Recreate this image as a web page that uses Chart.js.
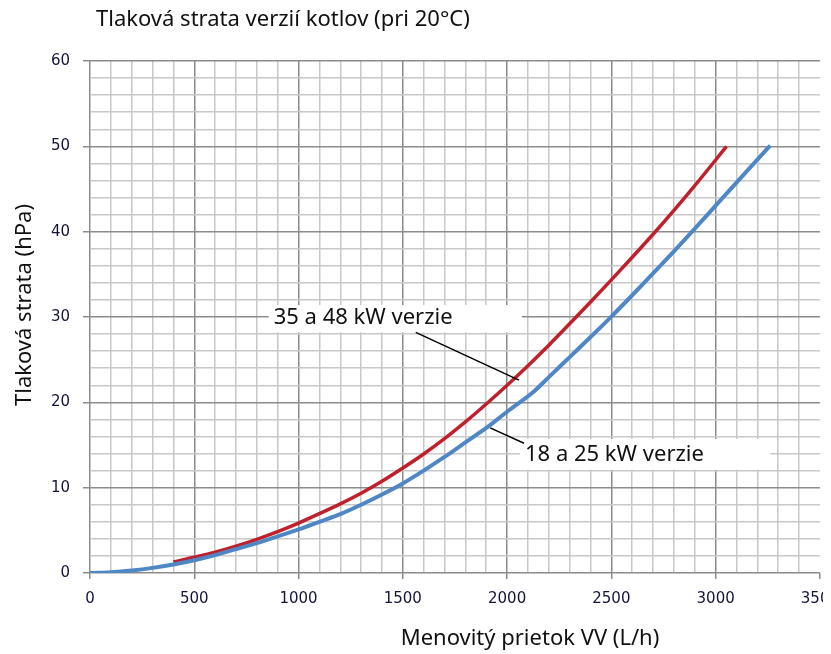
<!DOCTYPE html>
<html>
<head>
<meta charset="utf-8">
<script src="https://cdn.jsdelivr.net/npm/chart.js@4/dist/chart.umd.min.js"></script>
<style>
  html, body { margin: 0; padding: 0; background: #fff; overflow: hidden; }
  #wrap { width: 823px; height: 654px; overflow: hidden; position: relative; }
  canvas { display: block; }
</style>
</head>
<body>
<div id="wrap"><canvas id="chart" width="850" height="654"></canvas></div>
<script>
// data
const flowSmall = [0, 100, 200, 300, 400, 500, 600, 700, 800, 900, 1000, 1100, 1200, 1300, 1400, 1500, 1600, 1700, 1800, 1900, 2000, 2130, 2200, 2300, 2400, 2500, 2600, 2700, 2800, 2900, 3000, 3100, 3200, 3262];
const lossSmall = [0, 0.1, 0.3, 0.6, 1.0, 1.5, 2.1, 2.8, 3.5, 4.3, 5.1, 6.0, 6.9, 8.0, 9.2, 10.5, 12.0, 13.6, 15.3, 17.0, 18.9, 21.3, 22.95, 25.3, 27.65, 30.05, 32.55, 35.1, 37.7, 40.35, 43.05, 45.75, 48.45, 50.1];
const flowBig = [400, 500, 600, 700, 800, 900, 1000, 1100, 1200, 1300, 1400, 1500, 1600, 1700, 1800, 1900, 2000, 2100, 2200, 2300, 2400, 2500, 2600, 2700, 2800, 2900, 3000, 3052];
const lossBig = [1.3, 1.85, 2.45, 3.15, 3.95, 4.85, 5.85, 6.95, 8.1, 9.35, 10.75, 12.3, 13.95, 15.75, 17.7, 19.8, 22.0, 24.3, 26.7, 29.2, 31.75, 34.35, 37.0, 39.7, 42.5, 45.4, 48.4, 50.0];

const titleText = "Tlaková strata verzií kotlov (pri 20°C)";
const yTitle = "Tlaková strata (hPa)";
const xTitle = "Menovitý prietok VV (L/h)";

// callouts, in data units
const callouts = [
  { text: "35 a 48 kW verzie", box: [857, 2071, 31.4, 28.2], textX: 881, textY: 29.9, line: [1562, 28.2, 2057, 22.6] },
  { text: "18 a 25 kW verzie", box: [2062, 3262, 15.7, 12.1], textX: 2086, textY: 13.9, line: [1919, 17.0, 2081, 15.2] },
];

const textFont = '"Noto Sans", sans-serif';
const tickFont = { family: '"DejaVu Sans", sans-serif', size: 15 };
const tickColor = "#14143a";

const toPoints = (xs, ys) => xs.map((x, i) => ({ x: x, y: ys[i] }));

const gridX = ctx => {
  const v = ctx.tick ? ctx.tick.value : 0;
  if (v >= 3500) return "rgba(0,0,0,0)";
  return v % 500 === 0 ? "#8c8c8c" : "#c8c8c8";
};
const gridY = ctx => {
  const v = ctx.tick ? ctx.tick.value : 0;
  return v % 10 === 0 ? "#8c8c8c" : "#c8c8c8";
};

const textPlugin = {
  id: "texts",
  afterDatasetsDraw(chart) {
    const c = chart.ctx;
    const xs = chart.scales.x, ys = chart.scales.y;
    c.save();
    callouts.forEach(co => {
      const x1 = xs.getPixelForValue(co.box[0]), x2 = xs.getPixelForValue(co.box[1]);
      const y1 = ys.getPixelForValue(co.box[2]), y2 = ys.getPixelForValue(co.box[3]);
      c.fillStyle = "#fff";
      c.fillRect(x1, y1, x2 - x1, y2 - y1);
      c.strokeStyle = "#000";
      c.lineWidth = 1.5;
      c.beginPath();
      c.moveTo(xs.getPixelForValue(co.line[0]), ys.getPixelForValue(co.line[1]));
      c.lineTo(xs.getPixelForValue(co.line[2]), ys.getPixelForValue(co.line[3]));
      c.stroke();
      c.fillStyle = "#111";
      c.font = "22px " + textFont;
      c.textAlign = "left";
      c.textBaseline = "middle";
      c.fillText(co.text, xs.getPixelForValue(co.textX), ys.getPixelForValue(co.textY));
    });
    c.restore();
  },
  afterDraw(chart) {
    const c = chart.ctx;
    c.save();
    c.fillStyle = "#111";
    c.font = "22px " + textFont;
    c.textBaseline = "middle";
    c.textAlign = "left";
    c.fillText(titleText, 96, 20);
    c.textAlign = "center";
    c.fillText(xTitle, 530, 639);
    c.translate(25, 305);
    c.rotate(-Math.PI / 2);
    c.fillText(yTitle, 0, 0);
    c.restore();
  }
};

new Chart(document.getElementById("chart"), {
  type: "scatter",
  plugins: [textPlugin],
  data: {
    datasets: [
      {
        label: "18 a 25 kW verzie",
        data: toPoints(flowSmall, lossSmall),
        showLine: true,
        borderColor: "#4f87c6",
        borderWidth: 4,
        pointRadius: 0,
        cubicInterpolationMode: "monotone",
      },
      {
        label: "35 a 48 kW verzie",
        data: toPoints(flowBig, lossBig),
        showLine: true,
        borderColor: "#c0202b",
        borderWidth: 3.5,
        pointRadius: 0,
        cubicInterpolationMode: "monotone",
      },
    ],
  },
  options: {
    responsive: false,
    animation: false,
    layout: { padding: { top: 61, right: 25, left: 0, bottom: 0 } },
    plugins: { legend: { display: false }, tooltip: { enabled: false } },
    scales: {
      x: {
        type: "linear",
        min: 0,
        max: 3500,
        afterFit: s => { s.height = 81; },
        border: { display: false },
        grid: { color: gridX, tickColor: ctx => (ctx.tick && ctx.tick.value % 500 === 0 ? "#8c8c8c" : "rgba(0,0,0,0)"), lineWidth: 1.5, tickLength: 6 },
        ticks: {
          stepSize: 100,
          autoSkip: false,
          maxRotation: 0,
          padding: 11,
          color: tickColor,
          font: tickFont,
          callback: v => (v % 500 === 0 ? String(v) : ""),
        },
      },
      y: {
        min: 0,
        max: 60,
        afterFit: s => { s.width = 90; },
        border: { display: false },
        grid: { color: gridY, tickColor: ctx => (ctx.tick && ctx.tick.value % 10 === 0 ? "#8c8c8c" : "rgba(0,0,0,0)"), lineWidth: 1.5, tickLength: 7 },
        ticks: {
          stepSize: 2,
          autoSkip: false,
          padding: 13,
          color: tickColor,
          font: tickFont,
          callback: v => (v % 10 === 0 ? String(v) : ""),
        },
      },
    },
  },
});
</script>
</body>
</html>
